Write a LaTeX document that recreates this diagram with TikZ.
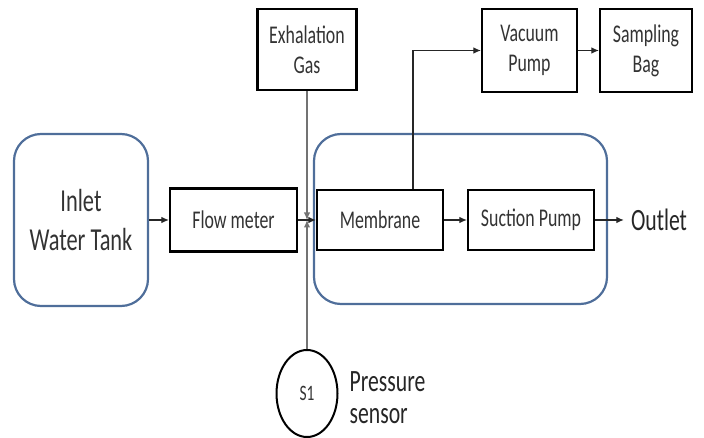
\documentclass[tikz,border=0pt]{standalone}
\usepackage{fontspec}
\setmainfont[FakeStretch=0.7]{Carlito}
\usepackage{tikz}
\usetikzlibrary{shapes.geometric, arrows, arrows.meta}
\definecolor{tankblue}{RGB}{79,110,154}
\tikzstyle{arrow} = [->,>={Latex[length=7.5pt,width=6.5pt]}, line width=1.1pt, draw=black!85]
\tikzstyle{box} = [rectangle, draw, line width=2.2pt, align=center, text=black!80, font=\fontsize{25.5}{30}\selectfont]
\tikzstyle{tank} = [rectangle, draw=tankblue, line width=2.2pt, rounded corners=27pt, align=center, text=black!80]

\begin{document}
\begin{tikzpicture}[x=1pt, y=-1pt, node distance=2cm, auto]
  \useasboundingbox (0,0) rectangle (704,438);
  \clip (0,0) rectangle (704,438);
  \node (unit) [tank, minimum width=293pt, minimum height=170pt] at (460.5,219) {};
  \node (tank) [tank, minimum width=134pt, minimum height=172pt, font=\fontsize{32}{39}\selectfont] at (81,220) {Inlet\\Water Tank};
  \node (flow) [box, right of=tank, node distance=152.5pt, minimum width=127pt, minimum height=63pt] {Flow meter};
  \node (mem) [box, right of=flow, node distance=146.5pt, minimum width=126pt, minimum height=60pt] {Membrane};
  \node (suction) [box, right of=mem, node distance=151pt, minimum width=126pt, minimum height=60pt] {Suction Pump};
  \node (outlet) [right of=suction, node distance=126pt, inner sep=1pt, xshift=2pt, text=black!85, font=\fontsize{31}{36}\selectfont] {Outlet};
  \node (vac) [box, minimum width=95pt, minimum height=83pt] at (529.5,50.5) {Vacuum\\Pump};
  \node (bag) [box, right of=vac, node distance=116.5pt, minimum width=92pt, minimum height=83pt] {Sampling\\Bag};
  \node (exh) [box, minimum width=99pt, minimum height=81pt] at (307,49.5) {Exhalation\\Gas};
  \node (s1) [ellipse, draw, line width=2pt, minimum width=61pt, minimum height=87pt, text=black!80, font=\fontsize{22}{24}\selectfont] at (307,393.5) {S1};
  \node (pres) [right of=s1, node distance=80.5pt, yshift=-4pt, align=left, text=black!85, font=\fontsize{31}{32}\selectfont] {Pressure\\sensor};

  \draw[arrow] (tank) -- (flow);
  \draw[arrow] (flow) -- (mem);
  \draw[arrow, draw=black!55] (exh) -- (exh |- flow);
  \draw[arrow, draw=black!55] (s1) -- (s1 |- flow);
  \draw[arrow] (mem) -- (suction);
  \draw[arrow] (suction) -- ([xshift=-6pt]outlet.west);
  \draw[arrow] ([xshift=33pt]mem.north) |- (vac);
  \draw[arrow] (vac) -- (bag);
\end{tikzpicture}
\end{document}
